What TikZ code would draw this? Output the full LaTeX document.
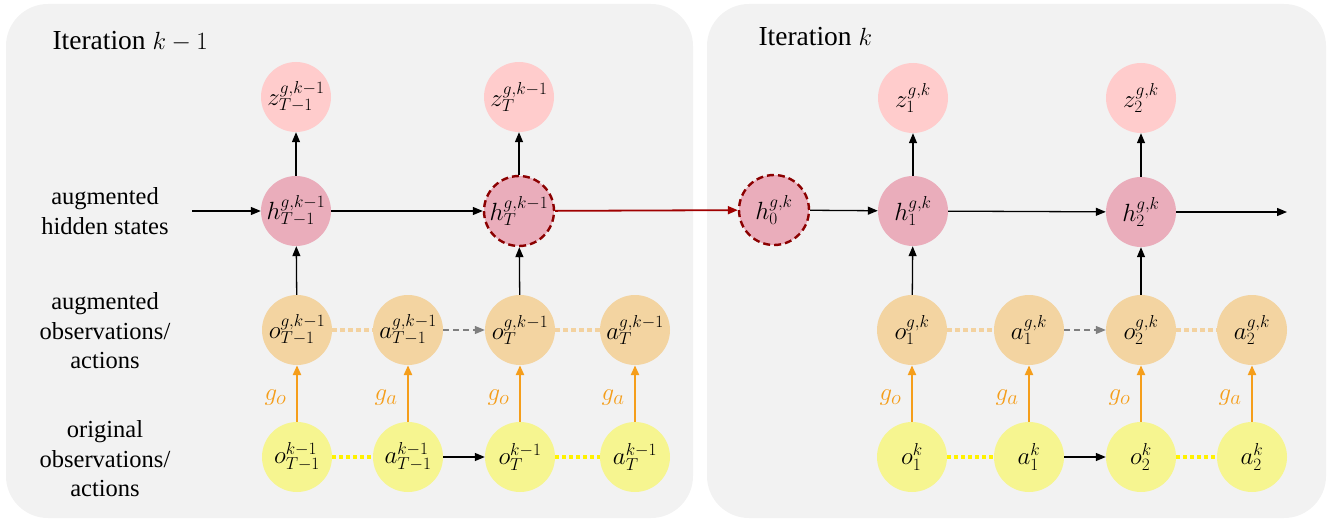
\documentclass[tikz,border=0pt]{standalone}
\usepackage{fontspec}
\setmainfont{Liberation Serif}
\usetikzlibrary{arrows.meta,calc}

\definecolor{panelgray}{HTML}{F2F2F2}
\definecolor{zfill}{HTML}{FFCCCC}
\definecolor{hfill}{HTML}{EAADBB}
\definecolor{ofill}{HTML}{F3D4A1}
\definecolor{yfill}{HTML}{F6F590}
\definecolor{darkred}{HTML}{8B0000}
\definecolor{linkred}{HTML}{A00000}
\definecolor{gorange}{HTML}{F59E1B}
\definecolor{tandot}{HTML}{F3D2A0}
\definecolor{yeldot}{HTML}{FFF200}
\definecolor{dashgray}{HTML}{7F7F7F}

\tikzset{
  x=1pt, y=-1pt,
  state/.style={circle, minimum size=70pt, inner sep=0pt, font=\fontsize{23}{26}\selectfont},
  zstate/.style={state, fill=zfill},
  hstate/.style={state, fill=hfill},
  ostate/.style={state, fill=ofill},
  ystate/.style={state, fill=yfill},
  carried/.style={draw=darkred, line width=2.4pt, dash pattern=on 7pt off 4pt},
  flow/.style={line width=1.3pt, -{Triangle[length=10pt,width=8pt]}},
  mapping/.style={draw=gorange, line width=2.4pt, -{Triangle[length=10pt,width=8pt]}},
  maplabel/.style={text=gorange, anchor=east, font=\fontsize{28}{30}\selectfont},
  tanlink/.style={draw=tandot, line width=4.5pt, dash pattern=on 4.5pt off 3.5pt},
  yellink/.style={draw=yeldot, line width=3.5pt, dash pattern=on 3.5pt off 3.5pt},
  nextstep/.style={draw=dashgray, line width=1.2pt, dash pattern=on 6pt off 4pt, -{Triangle[length=10pt,width=8pt]}},
  rowlabel/.style={align=center, font=\fontsize{24.5}{29.5}\selectfont},
  title/.style={anchor=base west, font=\fontsize{27.5}{30}\selectfont}
}

\begin{document}
\begin{tikzpicture}
\useasboundingbox (0,0) rectangle (1328,519);

% the two iteration panels
\fill[panelgray, rounded corners=42pt] (6,4) rectangle (693,518);
\fill[panelgray, rounded corners=42pt] (707,4) rectangle (1326,518);

\node[title] (titleA) at (49,49) {Iteration $k-1$};
\node[title] (titleB) at (755,46) {Iteration $k$};

% row labels
\node[rowlabel] (lblh) at (105,211) {augmented\\hidden states};
\node[rowlabel] (lblo) at (105,331) {augmented\\observations/\\actions};
\node[rowlabel] (lbly) at (105,459) {original\\observations/\\actions};

% latent outputs
\node[zstate] (zA) at (296,97) {$z^{g,k-1}_{T-1}$};
\node[zstate] (zB) at (519,97) {$z^{g,k-1}_{T}$};
\node[zstate] (z1) at (913,98) {$z^{g,k}_{1}$};
\node[zstate] (z2) at (1141,98) {$z^{g,k}_{2}$};

% hidden states
\node[hstate] (hA) at (296,211) {$h^{g,k-1}_{T-1}$};
\node[hstate, carried] (hB) at (519,211) {$h^{g,k-1}_{T}$};
\node[hstate, carried] (h0) at (774,210) {$h^{g,k}_{0}$};
\node[hstate] (h1) at (913,211) {$h^{g,k}_{1}$};
\node[hstate] (h2) at (1141,212) {$h^{g,k}_{2}$};

% augmented observations / actions
\node[ostate] (goA) at (297,330) {$o^{g,k-1}_{T-1}$};
\node[ostate] (gaA) at (408,330) {$a^{g,k-1}_{T-1}$};
\node[ostate] (goB) at (520,330) {$o^{g,k-1}_{T}$};
\node[ostate] (gaB) at (635,330) {$a^{g,k-1}_{T}$};
\node[ostate] (go1) at (912,330) {$o^{g,k}_{1}$};
\node[ostate] (ga1) at (1029,330) {$a^{g,k}_{1}$};
\node[ostate] (go2) at (1141,330) {$o^{g,k}_{2}$};
\node[ostate] (ga2) at (1252,330) {$a^{g,k}_{2}$};

% original observations / actions
\node[ystate] (oA) at (297,457) {$o^{k-1}_{T-1}$};
\node[ystate] (aA) at (408,457) {$a^{k-1}_{T-1}$};
\node[ystate] (oB) at (520,457) {$o^{k-1}_{T}$};
\node[ystate] (aB) at (635,457) {$a^{k-1}_{T}$};
\node[ystate] (o1) at (912,457) {$o^{k}_{1}$};
\node[ystate] (a1) at (1029,457) {$a^{k}_{1}$};
\node[ystate] (o2) at (1141,457) {$o^{k}_{2}$};
\node[ystate] (a2) at (1252,457) {$a^{k}_{2}$};

\coordinate (inL) at (192,211);
\coordinate (outR) at (1287,212);

% recurrence
\draw[flow] (inL) -- (hA);
\draw[flow] (hA) -- (hB);
\draw[flow, draw=linkred, line width=1.8pt] (hB) -- (h0);
\draw[flow] (h0) -- (h1);
\draw[flow] (h1) -- (h2);
\draw[flow] (h2) -- (outR);

% hidden to latent
\foreach \h/\z in {hA/zA, hB/zB, h1/z1, h2/z2}
  \draw[flow] (\h) -- (\z);

% augmented observations into hidden states
\foreach \o/\h in {goA/hA, goB/hB, go1/h1, go2/h2}
  \draw[flow] (\o) -- (\h);

% pairing within a step
\foreach \o/\a in {goA/gaA, goB/gaB, go1/ga1, go2/ga2}
  \draw[tanlink] (\o) -- (\a);
\foreach \o/\a in {oA/aA, oB/aB, o1/a1, o2/a2}
  \draw[yellink] (\o) -- (\a);

% transitions between steps
\draw[nextstep] (gaA) -- (goB);
\draw[nextstep] (ga1) -- (go2);
\draw[flow] (aA) -- (oB);
\draw[flow] (a1) -- (o2);

% augmentation maps
\foreach \src/\dst/\lab in {oA/goA/o, aA/gaA/a, oB/goB/o, aB/gaB/a, o1/go1/o, a1/ga1/a, o2/go2/o, a2/ga2/a} {
  \draw[mapping] (\src) -- (\dst);
  \node[maplabel] at ($(\src.north)!0.5!(\dst.south)+(-7,4)$) {$g_\lab$};
}
\end{tikzpicture}
\end{document}
